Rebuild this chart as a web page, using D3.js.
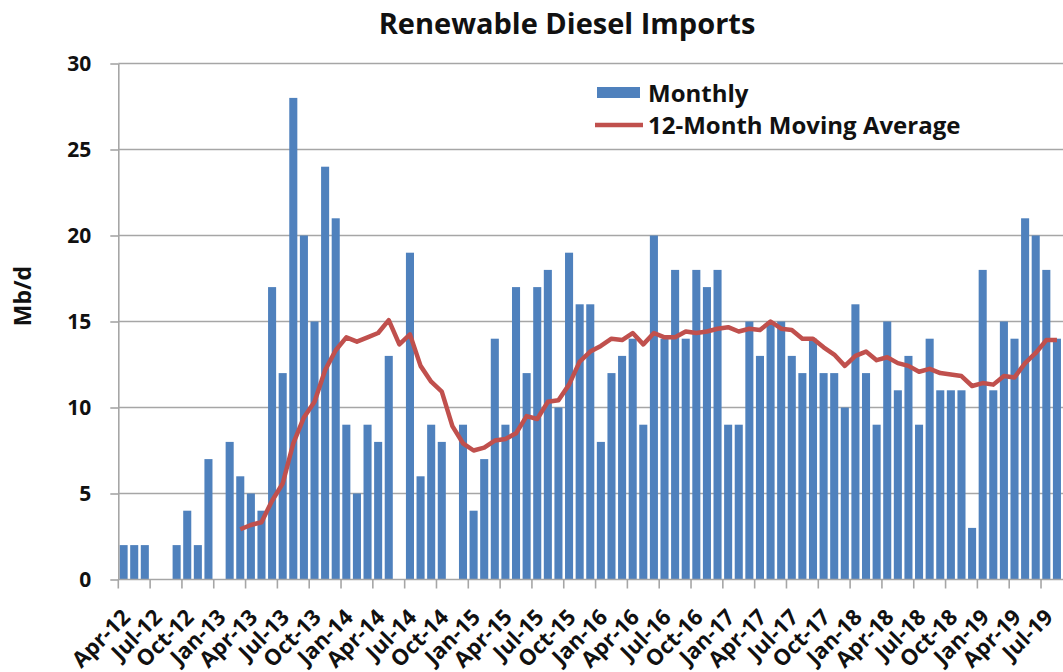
<!DOCTYPE html>
<html>
<head>
<meta charset="utf-8">
<script src="https://cdn.jsdelivr.net/npm/d3@7"></script>
<style>
  body { margin: 0; background: #fff; }
  svg { display: block; font-family: "Open Sans", sans-serif; }
</style>
</head>
<body>
<div id="chart"></div>
<script>
// Monthly renewable diesel imports (Mb/d), Apr-12 .. Aug-19
const monthly = [
  2, 2, 2, 0, 0, 2, 4, 2, 7,            // Apr-12 .. Dec-12
  0, 8, 6, 5, 4, 17, 12, 28, 20, 15, 24, 21, // 2013
  9, 5, 9, 8, 13, 0, 19, 6, 9, 8, 0, 9,      // 2014
  4, 7, 14, 9, 17, 12, 17, 18, 10, 19, 16, 16, // 2015
  8, 12, 13, 14, 9, 20, 14, 18, 14, 18, 17, 18, // 2016
  9, 9, 15, 13, 15, 15, 13, 12, 14, 12, 12, 10, // 2017
  16, 12, 9, 15, 11, 13, 9, 14, 11, 11, 11, 3,  // 2018
  18, 11, 15, 14, 21, 20, 18, 14                // 2019
];

// 12-month moving average, starts at Mar-13
const movingAvg = [
  2.92, 3.17, 3.33, 4.58, 5.58, 7.92, 9.42, 10.33, 12.17, 13.33,
  14.08, 13.83, 14.08, 14.33, 15.08, 13.67, 14.25, 12.42, 11.5, 10.92, 8.92, 7.92,
  7.5, 7.67, 8.08, 8.17, 8.5, 9.5, 9.33, 10.33, 10.42, 11.33, 12.67, 13.25,
  13.58, 14.0, 13.92, 14.33, 13.67, 14.33, 14.08, 14.08, 14.42, 14.33, 14.42, 14.58,
  14.67, 14.42, 14.58, 14.5, 15.0, 14.58, 14.5, 14.0, 14.0, 13.5, 13.08, 12.42,
  13.0, 13.25, 12.75, 12.92, 12.58, 12.42, 12.08, 12.25, 12.0, 11.92, 11.83, 11.25,
  11.42, 11.33, 11.83, 11.75, 12.58, 13.17, 13.92, 13.92
];
const maStart = 11; // index of Mar-13 in months

const yTicks = [0, 5, 10, 15, 20, 25, 30];
const legendLabels = ["Monthly", "12-Month Moving Average"];

const fmt = d3.timeFormat("%b-%y");
const months = d3.timeMonth.range(new Date(2012, 3, 1), new Date(2019, 8, 1)).map(fmt);

const W = 1063, H = 672;
const svg = d3.select("#chart").append("svg").attr("width", W).attr("height", H);

const left = 118.3, step = 10.606;
const x = d3.scaleBand()
    .domain(months)
    .range([left, left + months.length * step])
    .paddingInner(0.24)
    .paddingOuter(0.12);
const y = d3.scaleLinear().domain([0, 30]).range([579.5, 63.5]);

const grey = "#a6a6a6";

// gridlines
svg.append("g")
    .selectAll("line")
    .data(yTicks.filter(d => d > 0))
    .join("line")
    .attr("x1", left).attr("x2", W)
    .attr("y1", d => y(d)).attr("y2", d => y(d))
    .attr("stroke", grey).attr("stroke-width", 1.6);

// bars
svg.append("g")
    .selectAll("rect")
    .data(monthly.map((v, i) => ({ m: months[i], v })))
    .join("rect")
    .attr("x", d => x(d.m))
    .attr("width", x.bandwidth())
    .attr("y", d => y(d.v))
    .attr("height", d => y(0) - y(d.v))
    .attr("fill", "#4f81bd");

// moving average line
const line = d3.line()
    .x(d => x(d.m) + x.bandwidth() / 2)
    .y(d => y(d.v));
svg.append("path")
    .datum(movingAvg.map((v, i) => ({ m: months[i + maStart], v })))
    .attr("fill", "none")
    .attr("stroke", "#c0504d")
    .attr("stroke-width", 4.5)
    .attr("stroke-linejoin", "round")
    .attr("d", line);

// y axis
const yAxis = svg.append("g")
    .attr("transform", `translate(${left},0)`)
    .call(d3.axisLeft(y).tickValues(yTicks).tickSize(8).tickSizeOuter(0).tickPadding(19));
yAxis.select(".domain").attr("stroke", grey).attr("stroke-width", 1.6);
yAxis.selectAll(".tick line").attr("stroke", grey).attr("stroke-width", 1.6);
yAxis.selectAll("text")
    .attr("font-family", "Open Sans").attr("font-weight", 700)
    .attr("font-size", 21).attr("fill", "#111");

// x axis
const xAxis = svg.append("g");
xAxis.append("line")
    .attr("x1", left).attr("x2", W)
    .attr("y1", y(0)).attr("y2", y(0))
    .attr("stroke", grey).attr("stroke-width", 1.6);
const labelled = months.filter((m, i) => i % 3 === 0);
xAxis.selectAll(".xt")
    .data(labelled)
    .join("line")
    .attr("class", "xt")
    .attr("x1", d => x(d) - x.step() * x.paddingInner() / 2)
    .attr("x2", d => x(d) - x.step() * x.paddingInner() / 2)
    .attr("y1", y(0)).attr("y2", y(0) + 9)
    .attr("stroke", grey).attr("stroke-width", 1.6);
xAxis.selectAll(".xl")
    .data(labelled)
    .join("text")
    .attr("class", "xl")
    .attr("text-anchor", "end")
    .attr("font-weight", 700)
    .attr("font-size", 22)
    .attr("fill", "#111")
    .attr("transform", d => `translate(${x(d) + x.bandwidth() / 2 + 8},${y(0) + 39}) rotate(-45)`)
    .text(d => d);

// title
svg.append("text")
    .attr("x", 567).attr("y", 34)
    .attr("text-anchor", "middle")
    .attr("font-weight", 700).attr("font-size", 29).attr("fill", "#111")
    .text("Renewable Diesel Imports");

// y axis title
svg.append("text")
    .attr("transform", "translate(31,296) rotate(-90)")
    .attr("text-anchor", "middle")
    .attr("font-weight", 700).attr("font-size", 23).attr("fill", "#111")
    .text("Mb/d");

// legend
const lg = svg.append("g");
lg.append("rect")
    .attr("x", 597).attr("y", 87).attr("width", 43).attr("height", 11)
    .attr("fill", "#4f81bd");
lg.append("line")
    .attr("x1", 595).attr("x2", 643).attr("y1", 125).attr("y2", 125)
    .attr("stroke", "#c0504d").attr("stroke-width", 4.5);
lg.selectAll("text")
    .data(legendLabels)
    .join("text")
    .attr("x", 648)
    .attr("y", (d, i) => 102 + i * 32)
    .attr("font-weight", 700).attr("font-size", 24).attr("fill", "#111")
    .text(d => d);
</script>
</body>
</html>
